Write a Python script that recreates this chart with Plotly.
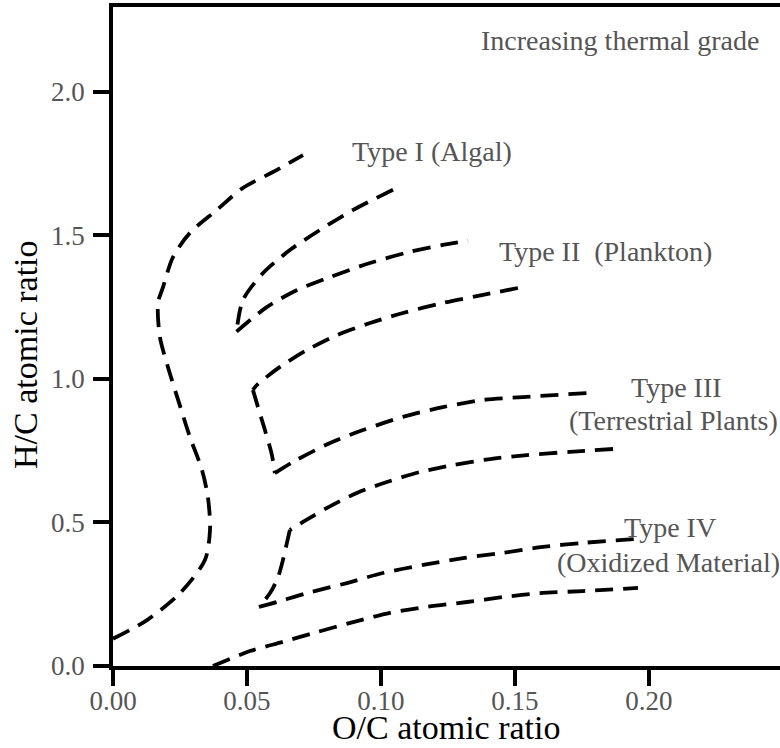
import plotly.graph_objects as go

# ---- data (O/C, H/C) ----
curve_a_x = [0.000, 0.0127, 0.025, 0.0343, 0.0362, 0.0354, 0.0332, 0.0287, 0.0243, 0.0205, 0.0175,
             0.0168, 0.0187, 0.0224, 0.0287, 0.0388, 0.0485, 0.0597, 0.0709]
curve_a_y = [0.095, 0.160, 0.254, 0.369, 0.474, 0.589, 0.683, 0.798, 0.927, 1.042, 1.146,
             1.265, 1.321, 1.425, 1.509, 1.589, 1.666, 1.721, 1.780]

curve_b_x = [0.1045, 0.0896, 0.0772, 0.0660, 0.0560, 0.0485, 0.0461,
             0.0575, 0.0687, 0.0810, 0.0959, 0.1108, 0.1231, 0.1325]
curve_b_y = [1.659, 1.589, 1.519, 1.449, 1.369, 1.275, 1.165,
             1.251, 1.310, 1.355, 1.404, 1.443, 1.467, 1.481]

curve_c_x = [0.1511, 0.1381, 0.1231, 0.1082, 0.0959, 0.0836, 0.0724, 0.0623, 0.0537, 0.0522,
             0.0541, 0.0567, 0.0593, 0.0604,
             0.0672, 0.0810, 0.0933, 0.1082, 0.1231, 0.1381, 0.1530, 0.1769]
curve_c_y = [1.317, 1.293, 1.265, 1.230, 1.195, 1.153, 1.101, 1.042, 0.979, 0.962,
             0.902, 0.822, 0.735, 0.672,
             0.711, 0.777, 0.822, 0.868, 0.902, 0.927, 0.937, 0.951]

curve_d_x = [0.1866, 0.1705, 0.1545, 0.1407, 0.1269, 0.1146, 0.1022, 0.0910, 0.0799, 0.0709, 0.0660,
             0.0649, 0.0634, 0.0616, 0.0586, 0.0545,
             0.0612, 0.0724, 0.0873, 0.1007, 0.1157, 0.1306, 0.1455, 0.1604, 0.1754, 0.1955]
curve_d_y = [0.756, 0.746, 0.735, 0.721, 0.700, 0.676, 0.641, 0.603, 0.551, 0.502, 0.474,
             0.429, 0.369, 0.310, 0.254, 0.206,
             0.223, 0.254, 0.289, 0.324, 0.352, 0.376, 0.394, 0.415, 0.429, 0.443]

curve_e_x = [0.0373, 0.0511, 0.0634, 0.0761, 0.0896, 0.1034, 0.1172, 0.1321, 0.1455, 0.1593, 0.1754, 0.1959]
curve_e_y = [0.000, 0.052, 0.084, 0.118, 0.153, 0.185, 0.206, 0.223, 0.240, 0.254, 0.261, 0.272]

# indices of the sharp corners in each curve
curve_a_corners = []
curve_b_corners = [6]
curve_c_corners = [9, 13]
curve_d_corners = [10, 15]
curve_e_corners = []

x_ticks = [0.00, 0.05, 0.10, 0.15, 0.20]
x_tick_labels = ["0.00", "0.05", "0.10", "0.15", "0.20"]
y_ticks = [0.0, 0.5, 1.0, 1.5, 2.0]
y_tick_labels = ["0.0", "0.5", "1.0", "1.5", "2.0"]

curves = [(curve_a_x, curve_a_y, curve_a_corners), (curve_b_x, curve_b_y, curve_b_corners),
          (curve_c_x, curve_c_y, curve_c_corners), (curve_d_x, curve_d_y, curve_d_corners),
          (curve_e_x, curve_e_y, curve_e_corners)]

FONT = "Liberation Serif, Times New Roman, serif"
GREY = "#555555"

fig = go.Figure()
for cx, cy, corners in curves:
    cuts = [0] + corners + [len(cx) - 1]
    for i0, i1 in zip(cuts[:-1], cuts[1:]):
        fig.add_trace(go.Scatter(x=cx[i0:i1 + 1], y=cy[i0:i1 + 1], mode="lines",
                                 line=dict(color="black", width=3.8, dash="18px,10px",
                                           shape="spline", smoothing=0.8),
                                 showlegend=False, hoverinfo="skip"))

labels = [
    ("Increasing thermal grade", 0.1892, 2.181, "center"),
    ("Type I (Algal)", 0.0884, 1.791, "left"),
    ("Type II&nbsp;&nbsp;(Plankton)", 0.1433, 1.443, "left"),
    ("Type III", 0.2104, 0.969, "center"),
    ("(Terrestrial Plants)", 0.2093, 0.854, "center"),
    ("Type IV", 0.2078, 0.484, "center"),
    ("(Oxidized Material)", 0.2074, 0.359, "center"),
]
for txt, lx, ly, anc in labels:
    fig.add_annotation(x=lx, y=ly, xref="x", yref="y", text=txt, showarrow=False,
                       xanchor=anc, yanchor="middle",
                       font=dict(family=FONT, size=28, color=GREY))

fig.add_annotation(x=0.4993, y=-0.1244, xref="paper", yref="paper", text="O/C atomic ratio",
                   showarrow=False, xanchor="center", yanchor="bottom",
                   font=dict(family=FONT, size=34, color="black"))
fig.add_annotation(x=-0.1304, y=0.472, xref="paper", yref="paper", text="H/C atomic ratio",
                   showarrow=False, xanchor="center", yanchor="middle", textangle=-90,
                   font=dict(family=FONT, size=34, color="black"))

axis_common = dict(showgrid=False, zeroline=False, showline=True, linecolor="black", linewidth=3.5,
                   ticks="outside", ticklen=16, tickwidth=4, tickcolor="black",
                   tickfont=dict(family=FONT, size=27, color=GREY))

fig.update_xaxes(range=[0, 0.2489], tickvals=x_ticks, ticktext=x_tick_labels, mirror=True,
                 ticklabelstandoff=-8, **axis_common)
fig.update_yaxes(range=[0, 2.296], tickvals=y_ticks, ticktext=y_tick_labels, mirror=False,
                 ticklabelstandoff=3, **axis_common)

fig.update_layout(width=780, height=748, margin=dict(l=113, r=0, t=7, b=82),
                  plot_bgcolor="white", paper_bgcolor="white")

fig.write_html("out.html")
